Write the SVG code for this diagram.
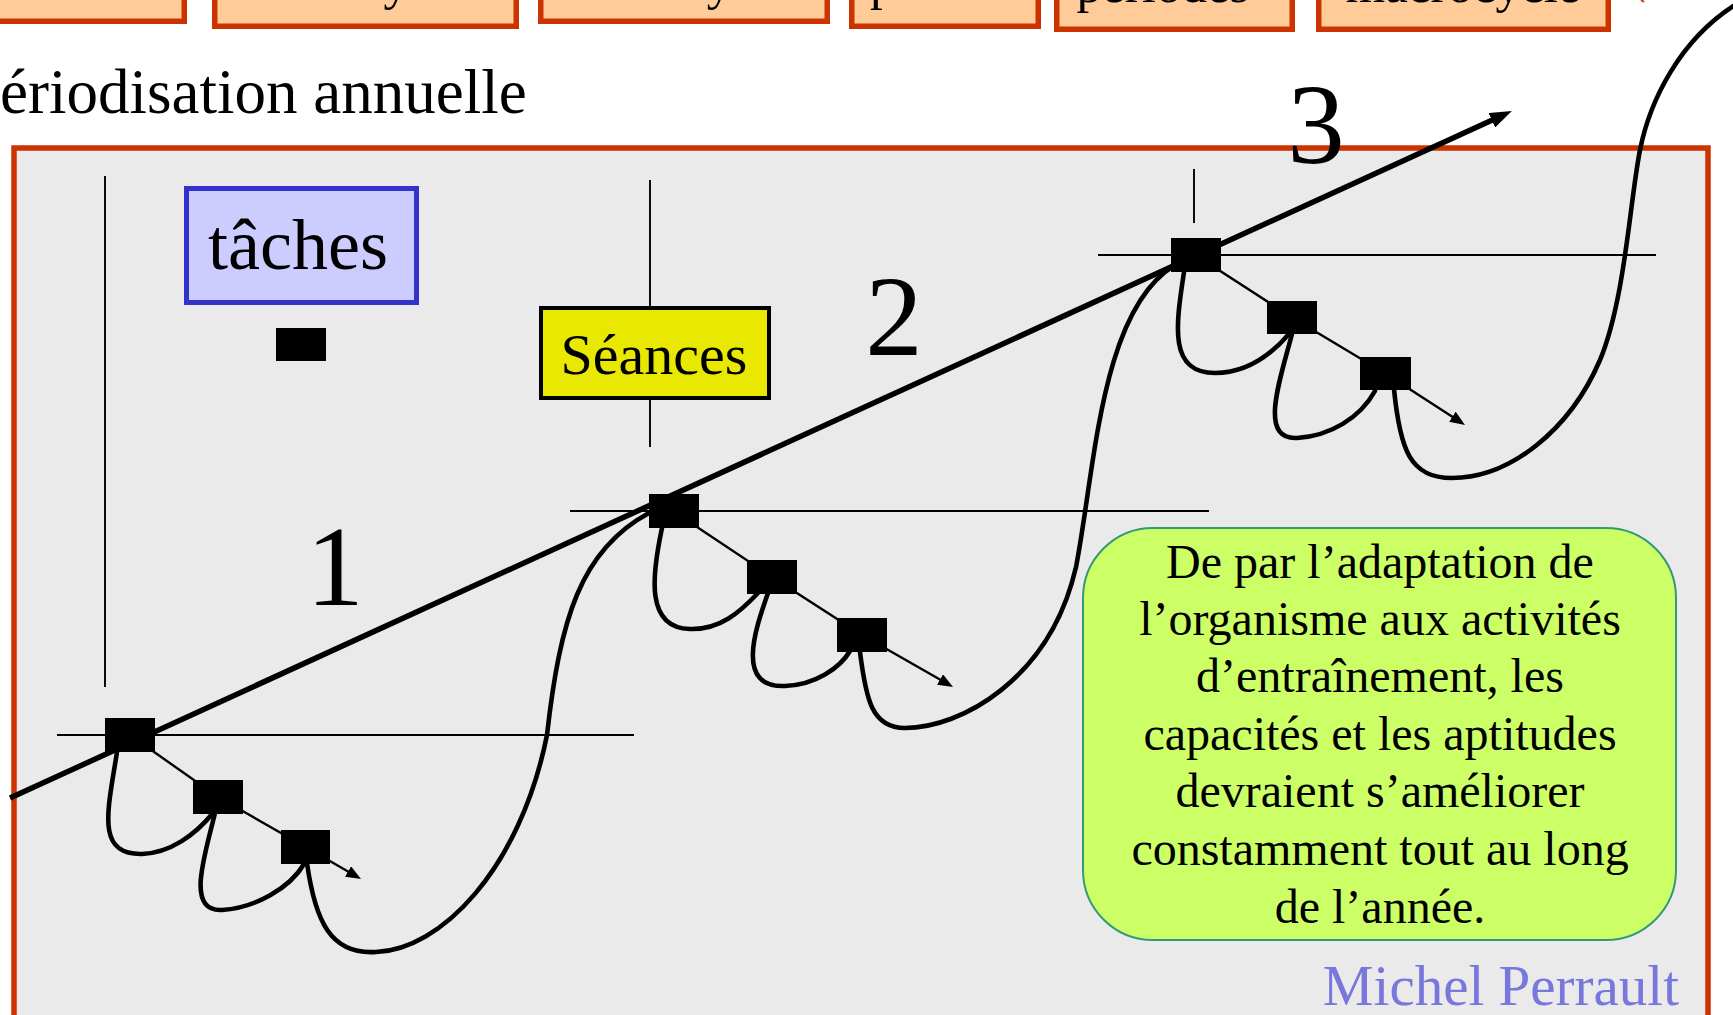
<svg xmlns="http://www.w3.org/2000/svg" width="1733" height="1015" viewBox="0 0 1733 1015">
<style>
text{font-family:"Liberation Serif","Times New Roman",serif;fill:#000}
.topbox{fill:#FFCC99;stroke:#CC3300;stroke-width:5.5}
.topt{font-size:51px;text-anchor:middle}
.thin{stroke:#000;stroke-width:1.9;fill:none}
.diag{stroke:#000;stroke-width:2.4;fill:none}
.loop{stroke:#000;stroke-width:4.6;fill:none;stroke-linecap:round}
.sq{fill:#000}
.num{font-size:115px;text-anchor:middle}
.note{font-size:48px;text-anchor:middle}
</style>
<defs>
<marker id="bigArrow" markerUnits="userSpaceOnUse" markerWidth="22" markerHeight="16" refX="9" refY="8" orient="auto"><path d="M0,0 L22,8 L0,16 z" fill="#000"/></marker>
<marker id="smallArrow" markerUnits="userSpaceOnUse" markerWidth="15" markerHeight="12" refX="10" refY="6" orient="auto"><path d="M0,0 L15,6 L0,12 z" fill="#000"/></marker>
</defs>
<rect width="1733" height="1015" fill="#FFFFFF"/>
<g id="top-boxes">
<g id="box1"><rect class="topbox" x="-50" y="-40" width="234.25" height="61.25"/><text class="topt" x="80" y="-1">séances</text></g>
<g id="box2"><rect class="topbox" x="214.75" y="-40" width="301.5" height="66.25"/><text class="topt" x="365" y="-1">microcycles</text></g>
<g id="box3"><rect class="topbox" x="540.75" y="-40" width="286.5" height="61.25"/><text class="topt" x="684" y="-1">mésocycle</text></g>
<g id="box4"><rect class="topbox" x="851.75" y="-40" width="186.5" height="66.25"/><text class="topt" x="938" y="-1">phases</text></g>
<g id="box5"><rect class="topbox" x="1056.75" y="-40" width="235.5" height="69.25"/><text class="topt" x="1163" y="2">périodes</text></g>
<g id="box6"><rect class="topbox" x="1318.75" y="-40" width="289.5" height="69.25"/><text class="topt" x="1463" y="2">macrocycle</text></g>
<path d="M1641,0 L1644,2" stroke="#CC3300" stroke-width="2"/>
</g>
<text id="title" x="-35" y="113" font-size="63">Périodisation annuelle</text>
<rect id="panel" x="14" y="148" width="1694" height="900" fill="#EAEAEA" stroke="#CC3300" stroke-width="5.5"/>
<g id="axes">
<line class="thin" x1="105" y1="176" x2="105" y2="687"/>
<line class="thin" x1="650" y1="180" x2="650" y2="447"/>
<line class="thin" x1="1194" y1="169" x2="1194" y2="223"/>
<line class="thin" x1="57" y1="735" x2="634" y2="735"/>
<line class="thin" x1="570" y1="511" x2="1209" y2="511"/>
<line class="thin" x1="1098" y1="255" x2="1656" y2="255"/>
</g>
<g id="taches"><rect x="186.5" y="188.5" width="230" height="114" fill="#CCCCFF" stroke="#3333CC" stroke-width="5"/><text x="298" y="269" font-size="72" text-anchor="middle">tâches</text></g>
<g id="legend-square"><rect class="sq" x="276" y="328" width="50" height="33"/></g>
<g id="seances"><rect x="541" y="308" width="228" height="90" fill="#E8E800" stroke="#000" stroke-width="4"/><text x="654" y="374" font-size="58" text-anchor="middle">Séances</text></g>
<g id="connectors">
<line x1="10" y1="798" x2="1500" y2="116.5" stroke="#000" stroke-width="5.5" marker-end="url(#bigArrow)"/>
<path class="loop" d="M117,752 C108,810 95,855 142,854 C170,853 195,835 213,813"/>
<path class="loop" d="M215,813 C205,855 185,912 222,910 C255,908 290,888 304,864"/>
<path class="loop" d="M307,863 C315,920 330,955 376,952 C440,950 520,870 547,735 C560,620 580,550 649,513"/>
<path class="loop" d="M662,528 C652,575 645,628 690,629 C720,630 740,612 758,593"/>
<path class="loop" d="M768,593 C755,630 735,688 785,686 C815,685 840,668 850,651"/>
<path class="loop" d="M860,652 C866,700 872,728 905,728 C960,728 1050,680 1076,567 C1095,470 1100,310 1175,265"/>
<path class="loop" d="M1184,272 C1176,325 1168,373 1215,373 C1245,373 1270,356 1289,334"/>
<path class="loop" d="M1292,334 C1280,380 1258,440 1297,438 C1330,436 1360,418 1375,391"/>
<path class="loop" d="M1394,389 C1400,450 1410,478 1452,478 C1510,478 1570,430 1600,360 C1625,300 1630,200 1640,150 C1650,100 1680,40 1735,5"/>
<polyline class="diag" points="130,735 218,797 305.5,847"/>
<line class="diag" x1="305.5" y1="847" x2="356.7" y2="876.5" marker-end="url(#smallArrow)"/>
<polyline class="diag" points="673,511 772,577 862,635"/>
<line class="diag" x1="862" y1="635" x2="948.7" y2="684.5" marker-end="url(#smallArrow)"/>
<polyline class="diag" points="1195.5,255 1292,317.5 1385.5,373.5"/>
<line class="diag" x1="1385.5" y1="373.5" x2="1460.8" y2="422.2" marker-end="url(#smallArrow)"/>
</g>
<g id="cluster1">
<rect class="sq" x="105" y="718" width="50" height="34"/>
<rect class="sq" x="193" y="780" width="50" height="34"/>
<rect class="sq" x="281" y="830" width="49" height="34"/>
</g>
<g id="cluster2">
<rect class="sq" x="649" y="494" width="50" height="34"/>
<rect class="sq" x="747" y="560" width="50" height="34"/>
<rect class="sq" x="837" y="618" width="50" height="34"/>
</g>
<g id="cluster3">
<rect class="sq" x="1171" y="238" width="50" height="34"/>
<rect class="sq" x="1267" y="301" width="50" height="33"/>
<rect class="sq" x="1360" y="357" width="51" height="33"/>
</g>
<g id="numbers">
<text class="num" x="335" y="605">1</text>
<text class="num" x="894" y="355">2</text>
<text class="num" x="1316" y="163">3</text>
</g>
<g id="note">
<rect x="1083" y="528" width="593" height="412" rx="70" ry="70" fill="#CCFF66" stroke="#339977" stroke-width="2"/>
<text class="note" x="1380" y="578">De par l’adaptation de</text>
<text class="note" x="1380" y="635">l’organisme aux activités</text>
<text class="note" x="1380" y="692">d’entraînement, les</text>
<text class="note" x="1380" y="750">capacités et les aptitudes</text>
<text class="note" x="1380" y="807">devraient s’améliorer</text>
<text class="note" x="1380" y="865">constamment tout au long</text>
<text class="note" x="1380" y="923">de l’année.</text>
</g>
<text id="author" x="1679" y="1005" font-size="57" text-anchor="end" style="fill:#7777DD">Michel Perrault</text>
</svg>
